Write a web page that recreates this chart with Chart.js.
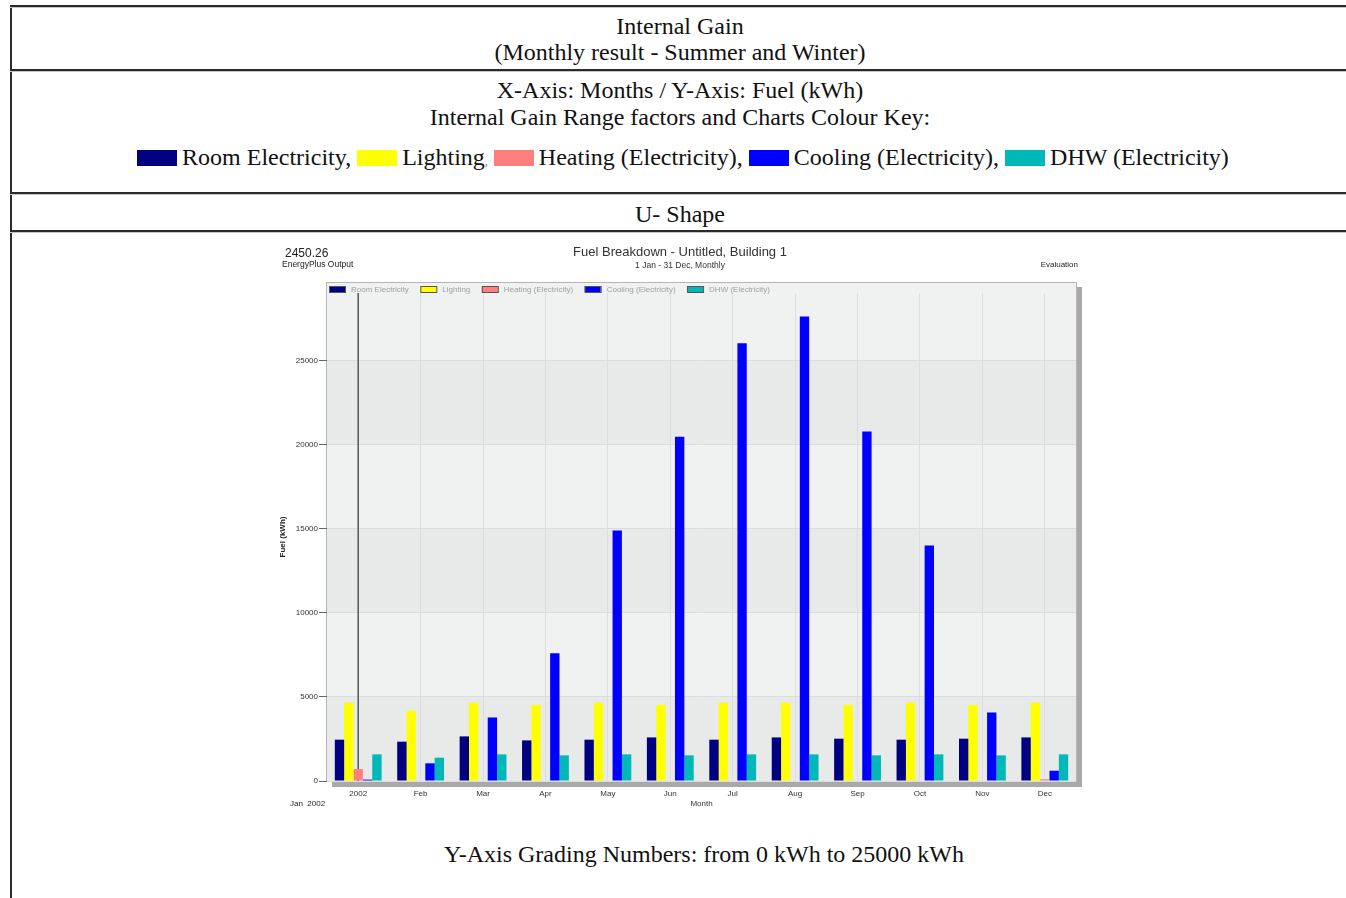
<!DOCTYPE html>
<html>
<head>
<meta charset="utf-8">
<script src="https://cdn.jsdelivr.net/npm/chart.js"></script>
<style>
body { margin:0; width:1346px; height:898px; overflow:hidden; background:#fff; font-family:"Liberation Serif", "Times New Roman", serif; color:#111; }
.hline { position:absolute; left:10px; right:0; height:2px; background:#2b2b2b; border-bottom:1px solid #c6c6c6; }
.vline { position:absolute; left:10px; top:5px; bottom:0; width:2px; background:#2b2b2b; }
.txt { position:absolute; left:12px; width:1336px; text-align:center; font-size:24px; line-height:26px; white-space:nowrap; }
.sw { display:inline-block; width:40px; height:16px; vertical-align:-1px; margin-right:5px; }
#chartBox { position:absolute; left:270px; top:238px; width:820px; height:580px; }
</style>
</head>
<body>
<div class="vline"></div>
<div class="hline" style="top:5px"></div>
<div class="hline" style="top:69px"></div>
<div class="hline" style="top:192px"></div>
<div class="hline" style="top:230px"></div>

<div class="txt" style="top:13px">Internal Gain</div>
<div class="txt" style="top:39px">(Monthly result - Summer and Winter)</div>
<div class="txt" style="top:77px">X-Axis: Months / Y-Axis: Fuel (kWh)</div>
<div class="txt" style="top:104px">Internal Gain Range factors and Charts Colour Key:</div>
<div class="txt" style="top:144px;left:15px"><span class="sw" style="background:#000080"></span>Room Electricity, <span class="sw" style="background:#ffff00"></span>Lighting<span style="color:#3a9a3a;font-size:12px">,</span> <span class="sw" style="background:#ff7f7f"></span>Heating (Electricity), <span class="sw" style="background:#0000ff"></span>Cooling (Electricity), <span class="sw" style="background:#00b8b8"></span>DHW (Electricity)</div>
<div class="txt" style="top:201px">U- Shape</div>
<div class="txt" style="top:841px;left:36px">Y-Axis Grading Numbers: from 0 kWh to 25000 kWh</div>

<div id="chartBox"><canvas id="fuelChart"></canvas></div>

<script>
let months = ['2002', 'Feb', 'Mar', 'Apr', 'May', 'Jun', 'Jul', 'Aug', 'Sep', 'Oct', 'Nov', 'Dec'];
let yTicks = [0, 5000, 10000, 15000, 20000, 25000];

let roomElectricity = [2455, 2336, 2650, 2413, 2455, 2590, 2455, 2590, 2515, 2455, 2515, 2590];
let lighting = [4648, 4174, 4648, 4523, 4640, 4523, 4648, 4648, 4523, 4648, 4523, 4648];
let heating = [711, 0, 0, 0, 0, 0, 0, 0, 0, 0, 0, 100];
let cooling = [83, 1050, 3776, 7588, 14880, 20453, 26008, 27609, 20767, 13991, 4072, 611];
let dhw = [1583, 1387, 1583, 1524, 1583, 1524, 1583, 1583, 1524, 1583, 1524, 1583];

let sans = '"Liberation Sans", Arial, sans-serif';

// frame, shadow and the grey bands behind the bars
let backdrop = {
    id: 'backdrop',
    beforeDraw(chart) {
        let ctx = chart.ctx;
        let a = chart.chartArea;
        let top = a.top - 10;
        ctx.save();
        ctx.fillStyle = '#a9a9a9';
        ctx.fillRect(a.right + 1, top + 4, 5, a.bottom - top + 2);
        ctx.fillRect(a.left + 5, a.bottom + 1, a.right - a.left + 1, 5);
        ctx.fillStyle = '#f0f1f1';
        ctx.fillRect(a.left, top, a.right - a.left, a.bottom - top);
        let y = chart.scales.y;
        let ticks = y.ticks;
        ctx.fillStyle = '#e8e9e9';
        for (let i = 0; i < ticks.length - 1; i++) {
            if (i % 2 == 0) {
                let y0 = y.getPixelForValue(ticks[i].value);
                let y1 = y.getPixelForValue(ticks[i + 1].value);
                ctx.fillRect(a.left, y1, a.right - a.left, y0 - y1);
            }
        }
        ctx.strokeStyle = '#b5b5b5';
        ctx.lineWidth = 1;
        ctx.strokeRect(a.left - 0.5, top - 0.5, a.right - a.left + 1, a.bottom - top + 1);
        ctx.restore();
    },
    beforeDatasetsDraw(chart) {
        // the dark cursor line on the first month
        let ctx = chart.ctx;
        let a = chart.chartArea;
        let x = chart.scales.x.getPixelForValue(0);
        ctx.save();
        ctx.strokeStyle = '#555';
        ctx.lineWidth = 1.5;
        ctx.beginPath();
        ctx.moveTo(x, a.top);
        ctx.lineTo(x, a.bottom);
        ctx.stroke();
        ctx.restore();
    },
    afterDraw(chart) {
        let ctx = chart.ctx;
        let a = chart.chartArea;
        ctx.save();
        ctx.fillStyle = '#222';
        ctx.textBaseline = 'middle';
        ctx.textAlign = 'left';
        ctx.font = '12px ' + sans;
        ctx.fillText('2450.26', 15, 16);
        ctx.font = '8.5px ' + sans;
        ctx.fillText('EnergyPlus Output', 12, 27);
        ctx.font = '8px ' + sans;
        ctx.fillText('Jan  2002', 20, 566);
        ctx.textAlign = 'right';
        ctx.fillText('Evaluation', 808, 27);
        ctx.textAlign = 'center';
        ctx.fillStyle = '#333';
        ctx.font = '13px ' + sans;
        ctx.fillText('Fuel Breakdown - Untitled, Building 1', 410, 14);
        ctx.font = '8.5px ' + sans;
        ctx.fillText('1 Jan - 31 Dec, Monthly', 410, 28);

        // legend row inside the frame
        ctx.textAlign = 'left';
        ctx.font = '8px ' + sans;
        let lx = a.left + 2;
        let ly = a.top - 7;
        chart.data.datasets.forEach((ds) => {
            ctx.fillStyle = ds.backgroundColor;
            ctx.fillRect(lx, ly, 16, 6);
            ctx.strokeStyle = '#555';
            ctx.lineWidth = 1;
            ctx.strokeRect(lx + 0.5, ly + 0.5, 16, 6);
            ctx.fillStyle = '#a0a0a0';
            ctx.fillText(ds.label, lx + 22, ly + 3.5);
            lx += 22 + ctx.measureText(ds.label).width + 11.5;
        });
        ctx.restore();
    }
};

let fuelChart = new Chart(document.getElementById('fuelChart').getContext('2d'), {
    type: 'bar',
    data: {
        labels: months,
        datasets: [
            { label: 'Room Electricity', data: roomElectricity, backgroundColor: '#000080' },
            { label: 'Lighting', data: lighting, backgroundColor: '#ffff00' },
            { label: 'Heating (Electricity)', data: heating, backgroundColor: '#ff7f7f' },
            { label: 'Cooling (Electricity)', data: cooling, backgroundColor: '#0000ff' },
            { label: 'DHW (Electricity)', data: dhw, backgroundColor: '#00b8b8' }
        ]
    },
    options: {
        responsive: true,
        maintainAspectRatio: false,
        animation: false,
        categoryPercentage: 0.75,
        barPercentage: 1,
        layout: { padding: { top: 55, right: 14, bottom: 0, left: 0 } },
        plugins: {
            legend: { display: false },
            title: { display: false },
            tooltip: { enabled: false }
        },
        scales: {
            x: {
                grid: { offset: false, color: '#dedede', drawTicks: false },
                border: { display: false },
                ticks: { font: { size: 8, family: sans }, color: '#333', padding: 8, maxRotation: 0, autoSkip: false },
                title: { display: true, text: 'Month', font: { size: 8, family: sans }, color: '#333', padding: { top: 0, bottom: 9 } },
                afterFit(s) { s.height = 37; }
            },
            y: {
                min: 0,
                max: 29000,
                afterBuildTicks(s) { s.ticks = yTicks.map((v) => ({ value: v })); },
                ticks: {
                    font: { size: 8, family: sans },
                    color: '#333',
                    padding: 1,
                    callback: (v) => v
                },
                grid: { color: '#dcdcdc', tickLength: 8, tickColor: '#666' },
                border: { display: false },
                title: { display: true, text: 'Fuel (kWh)', font: { size: 8, family: sans, weight: 'bold' }, color: '#222', padding: { top: 8, bottom: 0 } },
                afterFit(s) { s.width = 57; }
            }
        }
    },
    plugins: [backdrop]
});
</script>
</body>
</html>
